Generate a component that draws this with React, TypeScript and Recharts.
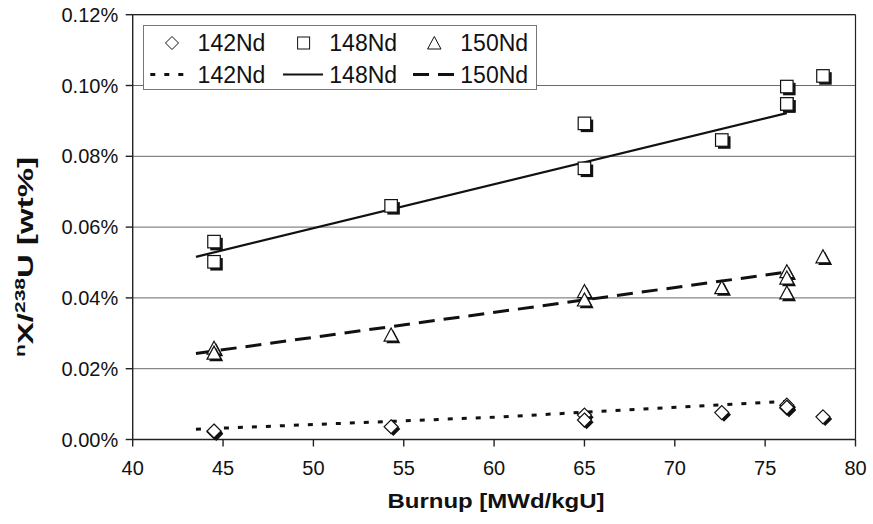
import React from 'react';
import { ScatterChart, Scatter, XAxis, YAxis, CartesianGrid, ReferenceLine, Legend } from 'recharts';

const FONT = '"Liberation Sans", Arial, sans-serif';
const INK = '#111';

// measured samples (burnup in MWd/kgU, ratio in wt%)
const burnup = [44.5, 44.5, 54.3, 65.0, 65.0, 72.6, 76.2, 76.2, 76.2, 78.2];
const nd142 = [0.0022, 0.0024, 0.0036, 0.0069, 0.0055, 0.0076, 0.0097, 0.0089, 0.0091, 0.0064];
const nd148 = [0.0559, 0.0502, 0.066, 0.0893, 0.0766, 0.0846, 0.0997, 0.0948, 0.0948, 0.1027];
const nd150 = [0.0258, 0.0244, 0.0295, 0.0418, 0.0394, 0.0429, 0.0474, 0.0456, 0.0414, 0.0516];

// trend lines
const fit142X = [43.5, 60, 76.2];
const fit142Y = [0.0029, 0.0063, 0.0108];
const fit148X = [43.5, 76.2];
const fit148Y = [0.0516, 0.0922];
const fit150X = [43.5, 76.2];
const fit150Y = [0.0243, 0.0473];

const xTicks = [40, 45, 50, 55, 60, 65, 70, 75, 80];
const yTicks = [0, 0.02, 0.04, 0.06, 0.08, 0.1, 0.12];

const pts = (xs: number[], ys: number[]) => xs.map((x, i) => ({ x, y: ys[i] }));

const Diamond = ({ cx, cy }: any) => {
  const d = (ox: number, oy: number) =>
    `${cx + ox},${cy + oy - 7} ${cx + ox + 7},${cy + oy} ${cx + ox},${cy + oy + 7} ${cx + ox - 7},${cy + oy}`;
  return (
    <g>
      <polygon points={d(2.2, 2.2)} fill={INK} />
      <polygon points={d(0, 0)} fill="#fff" stroke={INK} strokeWidth={1.2} />
    </g>
  );
};

const Square = ({ cx, cy }: any) => {
  const s = 12.5;
  return (
    <g>
      <rect x={cx - s / 2 + 2.5} y={cy - s / 2 + 2.5} width={s} height={s} fill={INK} />
      <rect x={cx - s / 2} y={cy - s / 2} width={s} height={s} fill="#fff" stroke={INK} strokeWidth={1.2} />
    </g>
  );
};

const Triangle = ({ cx, cy }: any) => {
  const t = (ox: number, oy: number) =>
    `${cx + ox},${cy + oy - 7} ${cx + ox + 7},${cy + oy + 6} ${cx + ox - 7},${cy + oy + 6}`;
  return (
    <g>
      <polygon points={t(2.2, 2.2)} fill={INK} />
      <polygon points={t(0, 0)} fill="#fff" stroke={INK} strokeWidth={1.2} />
    </g>
  );
};

const NoDot = () => <g />;

const XTick = ({ x, y, payload }: any) => (
  <text x={x} y={y} dy={28} textAnchor="middle" fontSize={20} fontFamily={FONT} fill={INK}>
    {payload.value}
  </text>
);

const YTick = ({ x, y, payload }: any) => (
  <text x={x} y={y} dx={-7.5} dy={7} textAnchor="end" fontSize={20} fontFamily={FONT} fill={INK}>
    {`${payload.value.toFixed(2)}%`}
  </text>
);

const XTitle = () => (
  <text
    transform="translate(496 508) scale(1.2 1)"
    textAnchor="middle"
    fontSize={20}
    fontWeight="bold"
    fontFamily={FONT}
    fill={INK}
  >
    Burnup [MWd/kgU]
  </text>
);

const YTitle = () => (
  <text
    transform="translate(33 257) rotate(-90) scale(1.5 1)"
    textAnchor="middle"
    fontSize={22}
    fontWeight="bold"
    fontFamily={FONT}
    fill={INK}
  >
    <tspan fontSize={14} dy={-8}>n</tspan>
    <tspan dy={8}>X/</tspan>
    <tspan fontSize={14} dy={-8}>238</tspan>
    <tspan dy={8}>U [wt%]</tspan>
  </text>
);

const legendText = { fontSize: 23, fontFamily: FONT, fill: INK };

const LegendBox = () => (
  <svg width={394} height={65} style={{ display: 'block' }}>
    <rect x={0.5} y={0.5} width={393} height={64} fill="#fff" stroke="#777" />
    {/* row 1: markers */}
    <polygon points="29,11.5 35.5,18 29,24.5 22.5,18" fill="#fff" stroke={INK} />
    <text x={54.6} y={26} {...legendText}>142Nd</text>
    <rect x={154.6} y={12} width={12} height={12} fill="#fff" stroke={INK} />
    <text x={186.3} y={26} {...legendText}>148Nd</text>
    <polygon points="291.3,11.5 298,24 284.6,24" fill="#fff" stroke={INK} />
    <text x={317.3} y={26} {...legendText}>150Nd</text>
    {/* row 2: trend lines */}
    <line x1={7.3} y1={49.5} x2={42.3} y2={49.5} stroke={INK} strokeWidth={3} strokeDasharray="5 9" />
    <text x={54.6} y={58} {...legendText}>142Nd</text>
    <line x1={140} y1={49.5} x2={180} y2={49.5} stroke={INK} strokeWidth={2} />
    <text x={186.3} y={58} {...legendText}>148Nd</text>
    <line x1={270} y1={49.5} x2={312.3} y2={49.5} stroke={INK} strokeWidth={3} strokeDasharray="16 9" />
    <text x={317.3} y={58} {...legendText}>150Nd</text>
  </svg>
);

export default function App() {
  return (
    <div style={{ position: 'absolute', left: 0, top: 0, width: 873, height: 524, background: '#fff' }}>
      <ScatterChart width={873} height={524} margin={{ top: 14.7, right: 17.5, bottom: 54.5, left: 42.7 }}>
        <CartesianGrid horizontal vertical={false} stroke="#6a6a6a" strokeWidth={1} />
        <XAxis
          type="number"
          dataKey="x"
          domain={[40, 80]}
          ticks={xTicks}
          interval={0}
          height={30}
          tickSize={7}
          tickMargin={0}
          tick={<XTick />}
          stroke="#222"
          strokeWidth={1.4}
          label={{ content: () => <XTitle /> }}
        />
        <YAxis
          type="number"
          dataKey="y"
          domain={[0, 0.12]}
          ticks={yTicks}
          interval={0}
          width={90}
          tickSize={7}
          tickMargin={0}
          tick={<YTick />}
          stroke="#222"
          strokeWidth={1.4}
          label={{ content: () => <YTitle /> }}
        />
        <ReferenceLine y={0.12} stroke="#222" strokeWidth={1.2} />
        <ReferenceLine x={80} stroke="#222" strokeWidth={1.2} />
        <Legend
          layout="horizontal"
          verticalAlign="middle"
          align="center"
          content={() => <LegendBox />}
          wrapperStyle={{ position: 'absolute', left: 142.7, top: 25, width: 394, height: 65 }}
        />
        <Scatter
          name="142Nd fit"
          data={pts(fit142X, fit142Y)}
          fill={INK}
          line={{ stroke: INK, strokeWidth: 3, strokeDasharray: '5 9' }}
          shape={NoDot}
          isAnimationActive={false}
        />
        <Scatter
          name="148Nd fit"
          data={pts(fit148X, fit148Y)}
          fill={INK}
          line={{ stroke: INK, strokeWidth: 2.2 }}
          shape={NoDot}
          isAnimationActive={false}
        />
        <Scatter
          name="150Nd fit"
          data={pts(fit150X, fit150Y)}
          fill={INK}
          line={{ stroke: INK, strokeWidth: 3, strokeDasharray: '16 9' }}
          shape={NoDot}
          isAnimationActive={false}
        />
        <Scatter name="142Nd" data={pts(burnup, nd142)} shape={Diamond} isAnimationActive={false} />
        <Scatter name="148Nd" data={pts(burnup, nd148)} shape={Square} isAnimationActive={false} />
        <Scatter name="150Nd" data={pts(burnup, nd150)} shape={Triangle} isAnimationActive={false} />
      </ScatterChart>
    </div>
  );
}
